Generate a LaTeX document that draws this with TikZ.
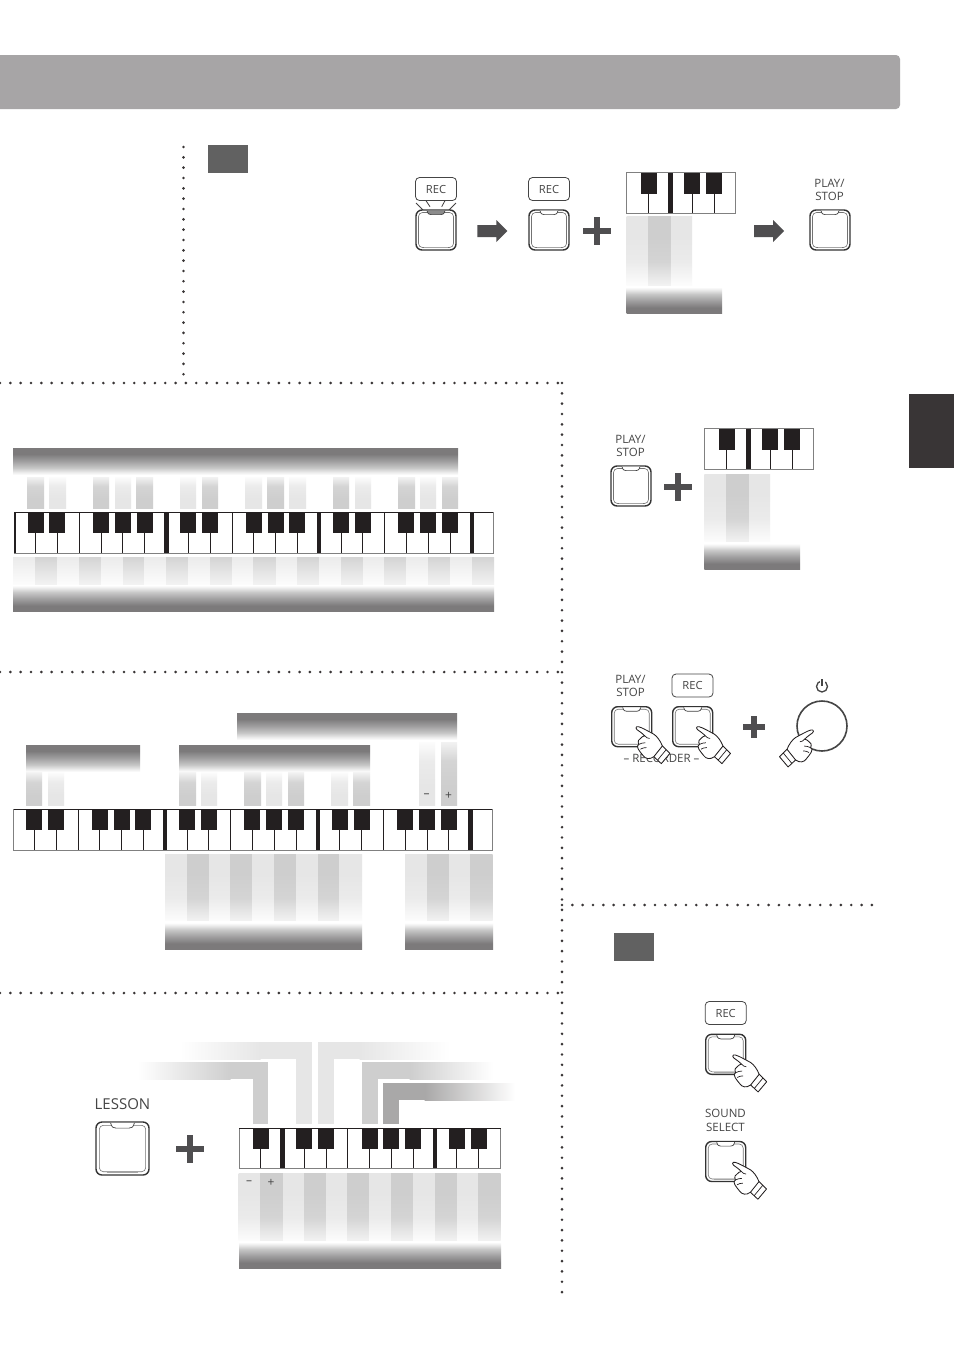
\documentclass[tikz,border=0pt]{standalone}
\usepackage{fontspec}
\setmainfont{Open Sans}
\definecolor{hdr}{HTML}{A7A5A6}
\definecolor{gbar}{HTML}{7C7A7B}
\definecolor{gbarb}{HTML}{A2A1A2}
\definecolor{gbarc}{HTML}{C8C8C8}
\definecolor{gbard}{HTML}{E8E8E8}
\definecolor{gL}{HTML}{E6E6E6}
\definecolor{gLb}{HTML}{EBEBEB}
\definecolor{gLc}{HTML}{FCFCFC}
\definecolor{gM}{HTML}{CECECE}
\definecolor{gMb}{HTML}{D4D4D4}
\definecolor{gMc}{HTML}{F2F2F2}
\definecolor{ink}{HTML}{454545}
\definecolor{dk}{HTML}{231F20}
\definecolor{arw}{HTML}{4F4E50}
\definecolor{eee}{HTML}{A9A8A8}
\pgfdeclareverticalshading{barTop}{100bp}{color(0bp)=(white);color(25bp)=(white);color(31bp)=(gbard);color(38bp)=(gbarc);color(50bp)=(gbarb);color(64bp)=(gbar);color(100bp)=(gbar)}
\pgfdeclareverticalshading{barBot}{100bp}{color(0bp)=(gbar);color(36bp)=(gbar);color(50bp)=(gbarb);color(62bp)=(gbarc);color(69bp)=(gbard);color(75bp)=(white);color(100bp)=(white)}
\pgfdeclareverticalshading{fadeLd}{100bp}{color(0bp)=(white);color(25bp)=(gLc);color(42bp)=(gLb);color(60bp)=(gL);color(100bp)=(gL)}
\pgfdeclareverticalshading{fadeMd}{100bp}{color(0bp)=(white);color(25bp)=(gMc);color(42bp)=(gMb);color(60bp)=(gM);color(100bp)=(gM)}
\pgfdeclareverticalshading{fadeLu}{100bp}{color(0bp)=(gL);color(40bp)=(gL);color(60bp)=(gLb);color(75bp)=(gLc);color(100bp)=(white)}
\pgfdeclareverticalshading{fadeMu}{100bp}{color(0bp)=(gM);color(40bp)=(gM);color(60bp)=(gMb);color(75bp)=(gMc);color(100bp)=(white)}
\pgfdeclareverticalshading{softLd}{100bp}{color(0bp)=(white);color(25bp)=(gLc);color(75bp)=(gLb);color(100bp)=(gLb)}
\pgfdeclareverticalshading{softMd}{100bp}{color(0bp)=(white);color(25bp)=(gMc);color(75bp)=(gMb);color(100bp)=(gMb)}
\tikzset{
  x=1pt,y=-1pt,
  lab/.style={text=ink,inner sep=0pt,align=center,font=\fontsize{11.5}{13.7}\selectfont},
  recbox/.style={draw=ink,line width=0.8pt,rounded corners=4pt,minimum width=41pt,minimum height=23pt,text=ink,inner sep=0pt,font=\fontsize{11.2}{12}\selectfont},
  plusbar/.style={fill=arw,draw=none},
  blockarrow/.style={fill=arw,draw=none},
  dots/.style={draw=dk!90,line width=2.9pt,line cap=round,dash pattern=on 0pt off 10.33pt},
  sign/.style={text=ink,inner sep=0pt,font=\fontsize{12}{12}\selectfont},
  square/.style={fill=black!62!white,draw=none},
}
% button: #1 x, #2 y, #3 size, #4 LED fill
\newcommand\btn[4]{%
  \begin{scope}[shift={(#1,#2)},x=#3pt/40,y=-#3pt/40]
    \draw[black!80,line width=1.4pt,rounded corners=6pt,fill=white] (0,0) rectangle (40,40);
    \draw[black!55,line width=0.6pt,rounded corners=4pt] (2.5,2.5) rectangle (37.5,37.5);
    \draw[black!35,line width=1.2pt] (8,37.8) -- (32,37.8);
    \draw[black!75,line width=0.7pt,fill=#4] (11,0.7) .. controls (12,4) and (13,4.6) .. (15,4.6) -- (25,4.6) .. controls (27,4.6) and (28,4) .. (29,0.7);
  \end{scope}}
% keyboard: x0,y0,x1,y1,thin,thick,black
\newcommand\kbd[7]{%
  \fill[white] (#1,#2) rectangle (#3,#4);
  \foreach \k in {#5} \draw[dk,line width=0.8pt] (\k,#2) -- (\k,#4);
  \foreach \k in {#6} \fill[dk] (\k-2.3,#2) rectangle (\k+2.3,#4);
  \foreach \k in {#7} \fill[dk] (\k,#2) rectangle (\k+16,#2+21);
  \draw[black!50,line width=1pt] (#1,#2) rectangle (#3,#4);
}
% hand: tip x, tip y, mirror
\newcommand\hand[3]{%
  \begin{scope}[shift={(#1,#2)},x=#3*1.07pt,y=-1.07pt]
    \draw[dk,line width=0.85pt,fill=white,line join=round] (0,0) .. controls (2,-0.5) and (5,1) .. (16,7)
      .. controls (19,9) and (22,13) .. (24,18) -- (31,25) -- (23,34.5) -- (16,28)
      .. controls (12,31) and (8,30) .. (6,27) .. controls (4,25) and (3,23) .. (1.5,21)
      .. controls (-0.5,19) and (1,17) .. (2,16.5) .. controls (0.5,14) and (2,11) .. (4,10.5)
      .. controls (4.5,9.5) and (6,9) .. (7.5,8.5) .. controls (5,6) and (2,4) .. (0.3,2.8)
      .. controls (-1,2) and (-1,0.3) .. (0,0) -- cycle;
    \draw[dk,line width=0.85pt] (24,18) -- (16,28);
    \draw[dk,line width=0.7pt] (27.5,21.5) -- (19.5,31.2);
    \draw[dk,line width=0.7pt] (7.5,8.5) .. controls (9,10) and (10,11) .. (12,11);
    \draw[dk,line width=0.7pt] (2,16.5) .. controls (4,15.5) and (6,15) .. (8,15);
    \draw[dk,line width=0.7pt] (3.5,21) .. controls (5,20) and (7,19.5) .. (9,19.5);
  \end{scope}}
\newcommand\plusmark[3]{%
  \fill[plusbar] (#1-#3,#2-2.6) rectangle (#1+#3,#2+2.6);
  \fill[plusbar] (#1-2.6,#2-#3) rectangle (#1+2.6,#2+#3);
}
\newcommand\arrowmark[1]{%
  \fill[blockarrow] (#1,225) -- (#1+19,225) -- (#1+19,220) -- (#1+30,231) -- (#1+19,242) -- (#1+19,237) -- (#1,237) -- cycle;
}
\begin{document}
\begin{tikzpicture}
\useasboundingbox (0,0) rectangle (954,1350);
\fill[white] (0,0) rectangle (954,1350);
% header and tab
\fill[hdr,rounded corners=4pt] (-6,55) rectangle (900,109);
\fill[dk!90!white] (909,394) rectangle (954,468);
\fill[square] (208,145) rectangle (248,173);
\fill[square] (614,933) rectangle (654,961);
% dotted rules
\coordinate (d1) at (183.5,147); \coordinate (d2) at (183.5,380);
\coordinate (d3) at (0,383); \coordinate (d4) at (562,383); \coordinate (d5) at (562,1295);
\coordinate (d6) at (0,672); \coordinate (d7) at (562,672);
\coordinate (d8) at (0,993); \coordinate (d9) at (562,993);
\coordinate (d10) at (562,905); \coordinate (d11) at (874,905);
\draw[dots] (d1) -- (d2);
\draw[dots] (d3) -- (d4);
\draw[dots] (d4) -- (d5);
\draw[dots] (d6) -- (d7);
\draw[dots] (d8) -- (d9);
\draw[dots] (d10) -- (d11);
% top row
\node[recbox] (rec1) at (436,189) {REC};
\foreach \a/\b/\c/\d in {416/203/423/210,426/200.7/430/206.7,445/200.7/441.7/206.7,456/203/449/210}
  \draw[dk!85,line width=0.8pt] (\a,\b) -- (\c,\d);
\btn{416}{210}{40}{black!45}
\arrowmark{477.3}
\node[recbox] (rec2) at (549,189) {REC};
\btn{529}{210}{40}{white}
\plusmark{597}{231}{14}
\kbd{626.7}{172.5}{735.3}{213.3}{648.3,692.3,714.3}{670.5}{641,684,706}
\shade[shading=fadeLd] (626.7,216.7) rectangle (648,285);
\shade[shading=fadeMd] (648,216.7) rectangle (671,285);
\shade[shading=fadeLd] (671,216.7) rectangle (692,285);
\shade[shading=barBot] (626.7,287) rectangle (722,313.5);
\arrowmark{754}
\node[lab] (ps1) at (829.5,190) {PLAY/\\STOP};
\btn{810}{210}{40}{white}
% second group
\node[lab] (ps2) at (630.5,446) {PLAY/\\STOP};
\btn{611}{466}{40}{white}
\plusmark{678}{487}{14}
\kbd{704.3}{428.7}{813.3}{469.3}{726.3,770.3,792.3}{748.7}{719,762,784}
\shade[shading=fadeLd] (704.3,474) rectangle (726,541.5);
\shade[shading=fadeMd] (726,474) rectangle (749,541.5);
\shade[shading=fadeLd] (749,474) rectangle (770,541.5);
\shade[shading=barBot] (704.3,543.5) rectangle (800,569.5);
% third group
\node[lab] (ps3) at (630.5,686) {PLAY/\\STOP};
\node[recbox] (rec3) at (692.5,685.5) {REC};
\btn{611.7}{706.7}{40}{white}
\btn{672.7}{706.7}{40}{white}
\node[lab] (rcd) at (661.5,758) {-- RECORDER --};
\hand{636.7}{726.7}{1}
\hand{697.3}{726.7}{1}
\plusmark{754}{727}{11}
\draw[ink,line width=1.6pt] (822,726) circle[radius=25pt];
\draw[ink,line width=1.3pt] (822,686.5) circle[radius=5.5pt];
\fill[white] (819.5,679) rectangle (824.5,683.5);
\draw[ink,line width=1.3pt] (822,679) -- (822,686);
\hand{812.7}{730}{-1}
% bottom right
\node[recbox] (rec4) at (725.7,1013) {REC};
\btn{705.7}{1034.3}{40}{white}
\hand{733.5}{1055}{1}
\node[lab] (ss) at (725.5,1120.5) {SOUND\\SELECT};
\btn{705.7}{1141.5}{40}{white}
\hand{733.3}{1162.3}{1}
% keyboard one
\shade[shading=barTop] (13,448) rectangle (458,475);
\foreach \a/\b/\s in {27/44/M,49/66/L,93/109/M,115/131/L,136/153/M,180/196/L,202/218/M,245/262/L,267/284/M,289/306/L,333/349/M,355/371/L,398/415/M,420/436/L,442/458/M}
  \shade[shading=fade\s u] (\a,477) rectangle (\b,508);
\kbd{14}{512}{493}{553}{35.3,57.3,79.3,101.3,122.3,144.3,188.3,210.3,232.3,253.3,275.3,297.3,341.3,362.3,384.3,406.3,428.3,450.3}{166.3,319,472}{28,49,93,115,137,180,202,246,268,289,333,355,398,420,442}
\fill[dk] (14,512) rectangle (16,553);
\foreach \a/\b/\s in {13/35/L,35/57/M,57/79/L,79/101/M,101/123/L,123/144/M,144/166/L,166/188/M,188/210/L,210/232/M,232/253/L,253/276/M,276/297/L,297/319/M,319/341/L,341/363.3/M,363.3/384/L,384/406/M,406/428/L,428/450/M,450/472/L,472/494/M}
  \shade[shading=soft\s d] (\a,557) rectangle (\b,584);
\shade[shading=barBot] (13,585.3) rectangle (494,611.5);
% keyboard two
\shade[shading=barTop] (237,713) rectangle (457,740);
\shade[shading=barTop] (26,745) rectangle (140,772);
\shade[shading=barTop] (179,745) rectangle (370,772);
\foreach \a/\b/\s in {26/42/M,48/64/L,179/196/M,201/217/L,244/261/M,266/282/L,288/304/M,331/348/L,353/370/M}
  \shade[shading=fade\s u] (\a,772.5) rectangle (\b,805);
\shade[shading=fadeLu] (419,742) rectangle (435,805);
\shade[shading=fadeMu] (441,742) rectangle (457,805);
\node[sign] (m1) at (426.5,795.5) {–};
\node[sign] (p1) at (448.5,795.5) {+};
\kbd{13.5}{809}{492}{850}{34.3,56.3,78.3,99.3,121.3,143.3,187.3,208.3,230.3,252.3,274.3,296.3,339.3,361.3,383.3,405.3,427.3,448.3}{165,318,470.5}{26,48,92,114,135,179,201,244,266,288,332,354,397,419,441}
\foreach \a/\b/\s in {165/187/L,187/209/M,209/230/L,230/252/M,252/274/L,274/296/M,296/318/L,318/339.3/M,339.3/362/L,405/427/L,427/449/M,449/470/L,470/492.7/M}
  \shade[shading=fade\s d] (\a,854) rectangle (\b,920.5);
\shade[shading=barBot] (165,922.7) rectangle (362,949.5);
\shade[shading=barBot] (405,922.7) rectangle (493,949.5);
% lesson group
\node[lab,font=\fontsize{15}{16}\selectfont] (ls) at (122.5,1104) {LESSON};
\btn{96}{1122}{53}{white}
\plusmark{190}{1149}{14}
\fill[gM] (253,1062) rectangle (268,1124);
\fill[gM] (230,1062) rectangle (268,1079);
\shade[left color=white,right color=gM,draw=none] (138,1062) rectangle (230.5,1079);
\fill[gL] (296,1042) rectangle (312,1124);
\fill[gL] (260,1042) rectangle (312,1059);
\shade[left color=white,right color=gL,draw=none] (180,1042) rectangle (260.5,1059);
\fill[gL] (318,1042) rectangle (334,1124);
\fill[gL] (318,1042) rectangle (360,1059);
\shade[left color=gL,right color=white,draw=none] (359.5,1042) rectangle (450,1059);
\fill[gM] (362,1062) rectangle (378,1124);
\fill[gM] (362,1062) rectangle (410,1079);
\shade[left color=gM,right color=white,draw=none] (409.5,1062) rectangle (493,1079);
\fill[eee] (383,1083) rectangle (399,1124);
\fill[eee] (383,1083) rectangle (425,1100);
\shade[left color=eee,right color=white,draw=none] (424.5,1083) rectangle (515,1100);
\kbd{239}{1128}{500.5}{1168.7}{260.3,304.3,326.3,347.3,369.3,391.3,413.3,456.3,478.3}{282.3,435}{253,296,318,362,383,405,449,471}
\foreach \a/\b/\s in {238.7/260/L,260/283/M,283/304/L,304/326/M,326/347/L,347/369/M,369/391/L,391/413/M,413/435/L,435/457/M,457/478/L,478/500.5/M}
  \shade[shading=fade\s d] (\a,1173) rectangle (\b,1240.5);
\shade[shading=barBot] (239,1242) rectangle (501,1268.5);
\node[sign] (m2) at (249,1183) {–};
\node[sign] (p2) at (271,1183) {+};
% dark top edge of the long keyboards
\draw[dk,line width=0.9pt] (14,512) -- (493,512);
\draw[dk,line width=0.9pt] (13.5,809) -- (492,809);
\draw[dk,line width=0.9pt] (239,1128) -- (500.5,1128);
\end{tikzpicture}
\end{document}
